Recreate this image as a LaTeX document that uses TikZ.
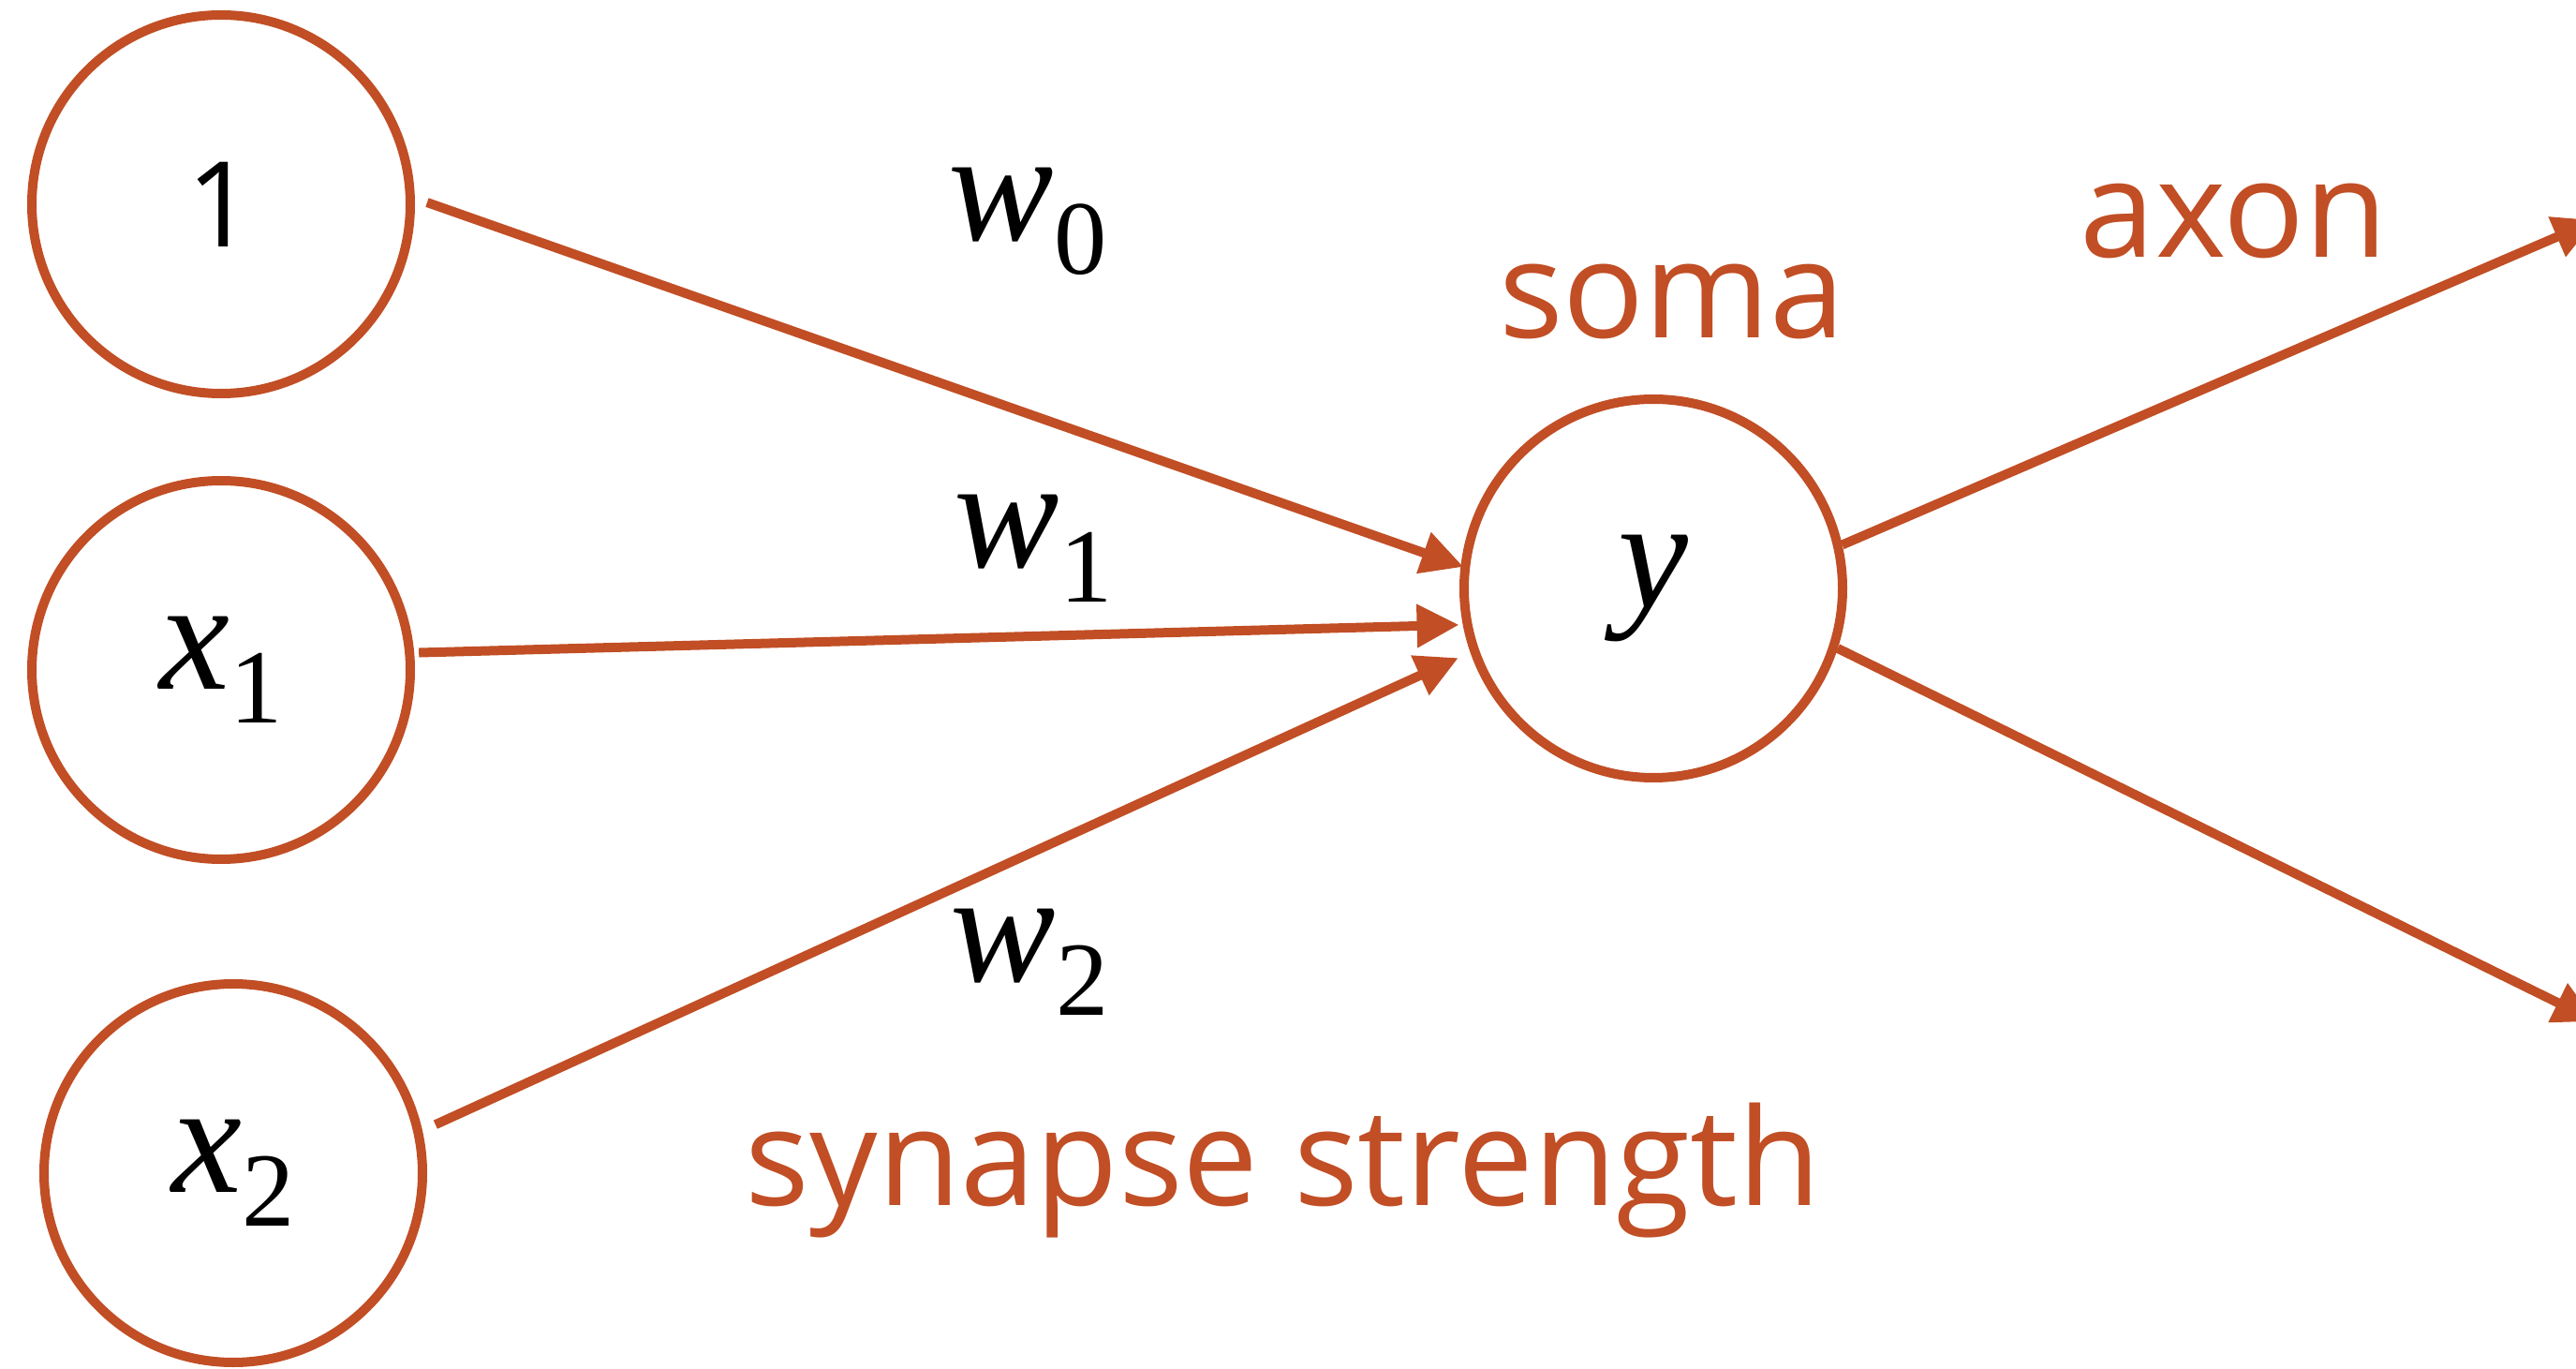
\documentclass[tikz,border=0pt]{standalone}
\usepackage{fontspec}
\setmainfont{Open Sans}
\newfontfamily\timesfont{Liberation Serif}
\usetikzlibrary{positioning,arrows.meta}
\definecolor{nred}{HTML}{C14E25}
\newcommand{\mvar}[1]{{\timesfont\itshape #1}}
\newcommand{\msub}[2]{\mvar{#1}\raisebox{-0.36cm}{\timesfont\fontsize{32}{32}\selectfont #2}}

\begin{document}
\begin{tikzpicture}[
  unit/.style={draw=nred, line width=0.1cm, circle, minimum size=4.04cm, inner sep=0pt, font=\fontsize{48}{56}\selectfont},
  lbl/.style={text=nred, inner sep=0pt, font=\fontsize{41}{49}\selectfont},
  wlbl/.style={inner sep=0pt, anchor=base west, font=\fontsize{48}{56}\selectfont},
  syn/.style={draw=nred, line width=0.1cm, -{Triangle[length=0.45cm,width=0.44cm]}}]
\useasboundingbox (0,0) rectangle (27.5,-14.61);
% inputs
\node[unit] (one) at (2.36,-2.18) {\fontsize{36}{43}\selectfont 1};
\node[unit] (x1) at (2.36,-7.15) {\msub{x}{1}};
\node[unit] (x2) at (2.49,-12.52) {\msub{x}{2}};
% neuron body
\node[unit] (soma) at (17.65,-6.28) {\mvar{y}};
\node[lbl, above=0.58cm of soma, xshift=0.2cm] (somalbl) {soma};
% weights
\node[wlbl] (w0) at (10.12,-2.57) {\msub{w}{0}};
\node[wlbl] (w1) at (10.18,-6.06) {\msub{w}{1}};
\node[wlbl] (w2) at (10.14,-10.47) {\msub{w}{2}};
\node[lbl, anchor=base] (synlbl) at (13.7,-12.86) {synapse strength};
\draw[syn] ([shift={(0.5:2.2)}]one.center) -- ([shift={(173.5:2.04)}]soma.center);
\draw[syn] ([shift={(5:2.12)}]x1.center) -- ([shift={(190.6:2.11)}]soma.center);
\draw[syn] ([shift={(13.5:2.22)}]x2.center) -- ([shift={(199.6:2.21)}]soma.center);
% axon
\coordinate (ax1) at (27.71,-2.35);
\coordinate (ax2) at (27.71,-10.9);
\node[lbl, anchor=base] (axonlbl) at (23.85,-2.75) {axon};
\draw[syn] (soma.13) -- (ax1);
\draw[syn] (soma.-18) -- (ax2);
\end{tikzpicture}
\end{document}
